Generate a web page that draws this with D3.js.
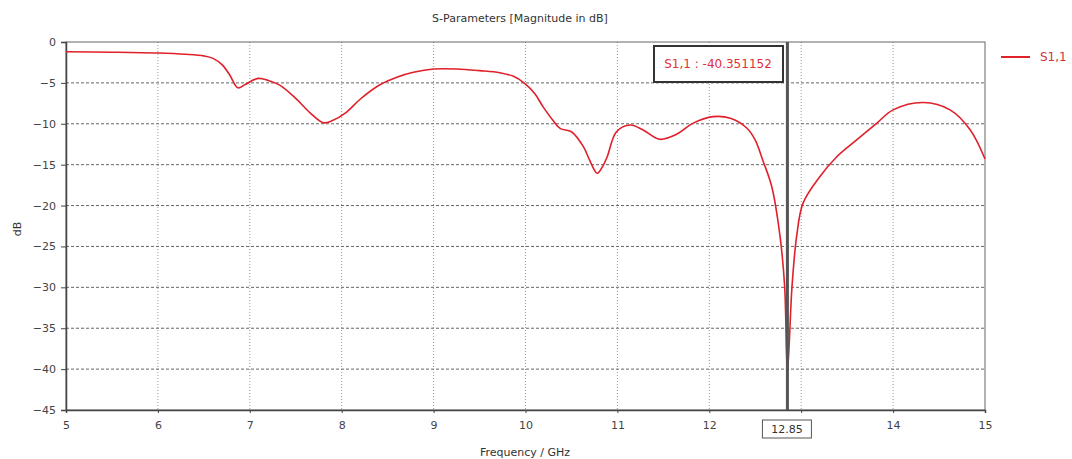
<!DOCTYPE html>
<html>
<head>
<meta charset="utf-8">
<script src="https://cdn.jsdelivr.net/npm/d3@7"></script>
<style>
  body { margin: 0; background: #fff; }
  svg { font-family: Tahoma, "DejaVu Sans", sans-serif; }
</style>
</head>
<body>
<svg id="chart" width="1072" height="459"></svg>
<script>
// S1,1 magnitude readings (GHz, dB)
const freqs = [5, 5.5, 6, 6.3, 6.5, 6.6, 6.7, 6.78, 6.87, 6.95, 7.09, 7.2, 7.33, 7.5, 7.65, 7.8, 7.9,
  8.05, 8.2, 8.42, 8.6, 8.78, 9.0, 9.25, 9.5, 9.72, 9.87, 9.99, 10.1, 10.19, 10.3, 10.38, 10.5,
  10.63, 10.7, 10.78, 10.84, 10.89, 10.99, 11.14, 11.28, 11.46, 11.65, 11.82, 12.04, 12.23, 12.41,
  12.5, 12.58, 12.68, 12.77, 12.82, 12.85, 12.9, 12.95, 13.02, 13.2, 13.39, 13.6, 13.82, 14.0, 14.33,
  14.62, 14.84, 15];
const s11 = [-1.2, -1.25, -1.35, -1.5, -1.7, -2.0, -2.8, -4.0, -5.6, -5.2, -4.45, -4.7, -5.3, -6.9, -8.6, -9.87, -9.6,
  -8.6, -7.0, -5.2, -4.3, -3.7, -3.3, -3.3, -3.5, -3.75, -4.2, -5.05, -6.3, -7.9, -9.6, -10.6, -10.97,
  -12.8, -14.5, -16.05, -15.2, -14.0, -10.97, -10.15, -10.76, -11.9, -11.25, -9.95, -9.13, -9.33, -10.55,
  -12.0, -14.4, -17.7, -23.8, -29.9, -40.35, -29.9, -23.8, -19.7, -16.5, -14.0, -12.0, -9.95, -8.3, -7.4,
  -8.3, -10.76, -14.3];
const xTicks = [5, 6, 7, 8, 9, 10, 11, 12, 13, 14, 15];
const yTicks = [0, -5, -10, -15, -20, -25, -30, -35, -40, -45];
const markerFreq = 12.85;
const markerText = "S1,1 : -40.351152";
const seriesName = "S1,1";

const svg = d3.select("#chart");
const plotL = 66, plotR = 985, plotT = 42, plotB = 410;

const x = d3.scaleLinear().domain([5, 15]).range([plotL, plotR]);
const y = d3.scaleLinear().domain([0, -45]).range([plotT, plotB]);

// grid
svg.append("g").selectAll("line").data(xTicks.slice(1, -1)).join("line")
  .attr("x1", d => x(d)).attr("x2", d => x(d))
  .attr("y1", plotT).attr("y2", plotB)
  .attr("stroke", "#999").attr("stroke-dasharray", "1,2");
svg.append("g").selectAll("line").data(yTicks.slice(1, -1)).join("line")
  .attr("x1", plotL).attr("x2", plotR)
  .attr("y1", d => y(d)).attr("y2", d => y(d))
  .attr("stroke", "#666").attr("stroke-dasharray", "3,2");

// frame
svg.append("rect").attr("x", plotL).attr("y", plotT)
  .attr("width", plotR - plotL).attr("height", plotB - plotT)
  .attr("fill", "none").attr("stroke", "#666");

// axes
const xAxis = svg.append("g").attr("transform", `translate(0,${plotB})`)
  .call(d3.axisBottom(x).tickValues(xTicks).tickSize(3).tickFormat(d => d === 13 ? "" : d));
const yAxis = svg.append("g").attr("transform", `translate(${plotL},0)`)
  .call(d3.axisLeft(y).tickValues(yTicks).tickSize(5));
[xAxis, yAxis].forEach(a => {
  a.select(".domain").attr("stroke", "#444").attr("stroke-width", 1.5);
  a.selectAll(".tick line").attr("stroke", "#444");
  a.selectAll("text").attr("fill", "#444").style("font-size", "11px")
    .style("font-family", "Tahoma, 'DejaVu Sans', sans-serif");
});
xAxis.selectAll("text").attr("dy", "1.2em");
yAxis.selectAll("text").attr("x", -10);

// curve
const line = d3.line().x((d, i) => x(freqs[i])).y(d => y(d)).curve(d3.curveCatmullRom.alpha(0.5));
svg.append("path").datum(s11)
  .attr("d", line).attr("fill", "none")
  .attr("stroke", "#e0202a").attr("stroke-width", 1.6);

// marker
svg.append("line").attr("x1", x(markerFreq)).attr("x2", x(markerFreq))
  .attr("y1", plotT).attr("y2", plotB)
  .attr("stroke", "#555").attr("stroke-width", 3);
svg.append("rect").attr("x", 654).attr("y", 46).attr("width", 129).attr("height", 36)
  .attr("fill", "#fff").attr("stroke", "#333").attr("stroke-width", 2);
svg.append("text").attr("x", 718).attr("y", 68).attr("text-anchor", "middle")
  .attr("fill", "#e0303a").style("font-size", "12px").text(markerText);

svg.append("rect").attr("x", x(markerFreq) - 25).attr("y", 420).attr("width", 49).attr("height", 18)
  .attr("fill", "#fff").attr("stroke", "#555");
svg.append("text").attr("x", x(markerFreq) - 0.5).attr("y", 433).attr("text-anchor", "middle")
  .attr("fill", "#333").style("font-size", "11px").text(markerFreq);

// titles
svg.append("text").attr("x", 520).attr("y", 22).attr("text-anchor", "middle")
  .attr("fill", "#333").style("font-size", "11px").text("S-Parameters [Magnitude in dB]");
svg.append("text").attr("x", 525).attr("y", 456).attr("text-anchor", "middle")
  .attr("fill", "#333").style("font-size", "11px").text("Frequency / GHz");
svg.append("text").attr("transform", "translate(21,229) rotate(-90)").attr("text-anchor", "middle")
  .attr("fill", "#333").style("font-size", "11px").text("dB");

// legend
svg.append("line").attr("x1", 1001).attr("x2", 1030).attr("y1", 57).attr("y2", 57)
  .attr("stroke", "#e0202a").attr("stroke-width", 2);
svg.append("text").attr("x", 1040).attr("y", 61)
  .attr("fill", "#d03040").style("font-size", "12px").text(seriesName);
</script>
</body>
</html>
